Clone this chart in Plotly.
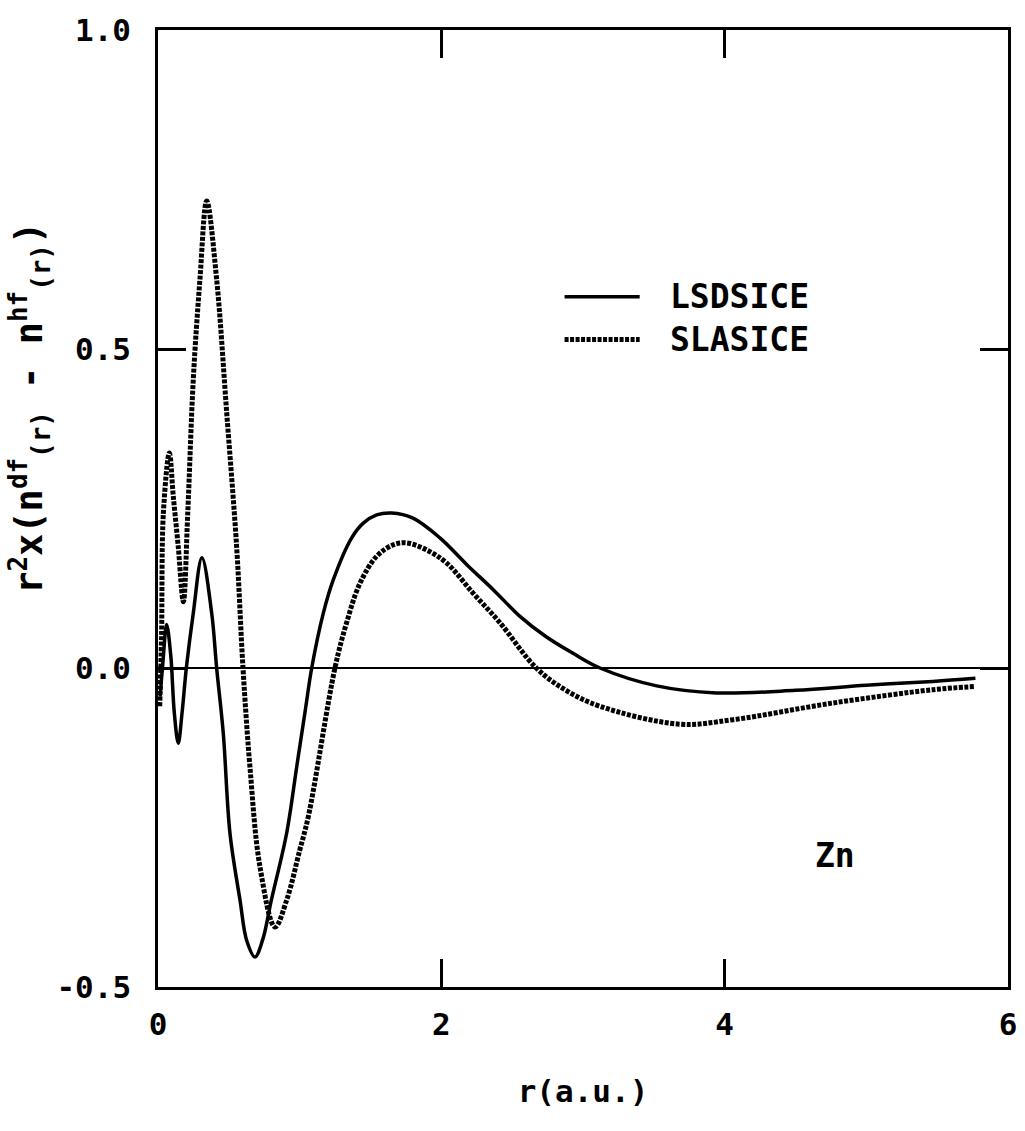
import plotly.graph_objects as go

# ---- data ----
lsd_r = [0.015, 0.035, 0.061, 0.09, 0.115, 0.143, 0.17, 0.20, 0.249, 0.31, 0.379, 0.414,
         0.461, 0.508, 0.579, 0.626, 0.685, 0.74, 0.80, 0.908, 0.979, 1.04, 1.085, 1.167,
         1.237, 1.367, 1.449, 1.543, 1.649, 1.80, 1.99, 2.18, 2.37, 2.555, 2.74, 2.93,
         3.12, 3.52, 3.94, 4.5, 5.0, 5.47, 5.77]
lsd_v = [-0.045, 0.01, 0.068, 0.02, -0.07, -0.118, -0.07, 0.0, 0.086, 0.173, 0.086, 0.0,
         -0.103, -0.259, -0.364, -0.427, -0.453, -0.425, -0.364, -0.259, -0.155, -0.066,
         0.0, 0.086, 0.138, 0.204, 0.227, 0.240, 0.243, 0.235, 0.204, 0.162, 0.122, 0.081,
         0.049, 0.023, 0.0, -0.028, -0.039, -0.035, -0.027, -0.021, -0.016]

sla_r = [0.012, 0.025, 0.038, 0.08, 0.108, 0.143, 0.179, 0.21, 0.249, 0.296, 0.344,
         0.414, 0.485, 0.555, 0.60, 0.649, 0.72, 0.826, 0.908, 1.0, 1.061, 1.249, 1.33,
         1.426, 1.543, 1.66, 1.755, 1.896, 2.04, 2.225, 2.41, 2.67, 2.88, 3.12,
         3.68, 4.06, 4.76, 5.47, 5.77]
sla_v = [-0.06, 0.05, 0.243, 0.337, 0.269, 0.19, 0.104, 0.243, 0.452, 0.609, 0.732,
         0.609, 0.40, 0.19, 0.0, -0.155, -0.312, -0.406, -0.364, -0.286, -0.233, 0.0, 0.070,
         0.133, 0.175, 0.193, 0.196, 0.185, 0.164, 0.117, 0.072, 0.0, -0.035,
         -0.060, -0.088, -0.081, -0.055, -0.034, -0.029]

x_ticks = [0, 2, 4, 6]
x_ticklabels = ["0", "2", "4", "6"]
y_ticks = [-0.5, 0.0, 0.5, 1.0]
y_ticklabels = ["-0.5", "0.0", "0.5", "1.0"]

names = ["LSDSICE", "SLASICE"]
element = "Zn"
y_title = "r<sup>2</sup>x(n<sup>df</sup><sub>(r)</sub> - n<sup>hf</sup><sub>(r)</sub>)"
x_title = "r(a.u.)"

# ---- styles ----
FONT = "DejaVu Sans Mono"
SOLID = dict(color="black", width=3.5)
DOTTED = dict(color="black", width=5, dash="4px,1.5px")

fig = go.Figure()
fig.add_trace(go.Scatter(x=lsd_r, y=lsd_v, mode="lines", name=names[0],
                         line=dict(**SOLID, shape="spline", smoothing=1.0),
                         showlegend=False))
fig.add_trace(go.Scatter(x=sla_r, y=sla_v, mode="lines", name=names[1],
                         line=dict(**DOTTED, shape="spline", smoothing=1.0),
                         showlegend=False))

# legend drawn as keys + labels
leg_x0, leg_x1, leg_tx = 2.87, 3.40, 3.60
leg_y = [0.582, 0.515]
for i, (nm, st) in enumerate(zip(names, [SOLID, DOTTED])):
    fig.add_shape(type="line", x0=leg_x0, x1=leg_x1, y0=leg_y[i], y1=leg_y[i],
                  xref="x", yref="y", line=st)
    fig.add_annotation(x=leg_tx, y=leg_y[i], text=nm, showarrow=False,
                       xanchor="left", yanchor="middle",
                       font=dict(family=FONT, size=33, color="black", weight="bold"))

fig.add_annotation(x=4.78, y=-0.294, text=element, showarrow=False,
                   font=dict(family=FONT, size=33, color="black", weight="bold"))

# y-axis title (placed as in the reference, above the plot's mid-height)
fig.add_annotation(x=-0.152, y=0.605, xref="paper", yref="paper", text=y_title,
                   textangle=-90, showarrow=False, xanchor="center", yanchor="middle",
                   font=dict(family=FONT, size=37, color="black", weight="bold"))

axis_common = dict(showline=True, linecolor="black", linewidth=2.5, mirror="ticks",
                   ticks="inside", ticklen=28, tickwidth=3, tickcolor="black",
                   showgrid=False,
                   tickfont=dict(family=FONT, size=31, color="black", weight="bold"))

fig.update_xaxes(range=[0, 6], tickvals=x_ticks, ticktext=x_ticklabels,
                 zeroline=False, ticklabelstandoff=8,
                 title=dict(text=x_title, standoff=40,
                            font=dict(family=FONT, size=31, color="black", weight="bold")),
                 **axis_common)
fig.update_yaxes(range=[-0.5, 1.0], tickvals=y_ticks, ticktext=y_ticklabels,
                 zeroline=True, zerolinecolor="black", zerolinewidth=1.5,
                 ticklabelstandoff=18, **axis_common)

fig.update_layout(width=1025, height=1131, plot_bgcolor="white", paper_bgcolor="white",
                  margin=dict(l=158, r=17, t=30, b=144, autoexpand=False))

fig.write_html("out.html")
